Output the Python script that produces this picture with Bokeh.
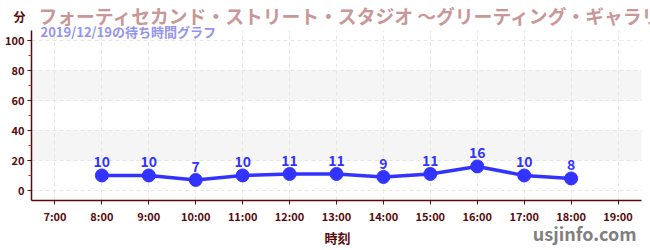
from bokeh.plotting import figure
from bokeh.models import (FixedTicker, Label, BoxAnnotation, ColumnDataSource, LabelSet,
                          LinearAxis, Grid)
from bokeh.core.properties import value
from bokeh.embed import file_html
from bokeh.resources import INLINE

hours = [8, 9, 10, 11, 12, 13, 14, 15, 16, 17, 18]
waits = [10, 10, 7, 10, 11, 11, 9, 11, 16, 10, 8]
tick_hours = list(range(7, 20))
tick_labels = [f"{h}:00" for h in tick_hours]
y_ticks = [0, 20, 40, 60, 80, 100]
y_minor = [10, 30, 50, 70, 90]
title_text = "フォーティセカンド・ストリート・スタジオ 〜グリーティング・ギャラリー〜"
subtitle_text = "2019/12/19の待ち時間グラフ"
FONT = "Noto Sans CJK JP"
DARK = "#5a0a0a"

W, H = 650, 250
FL, FR, FT, FB = 31, 641, 30, 200  # plot-area edges on the canvas
X0, X1 = 6.5, 19.5
Y0, Y1 = -6.7, 106.7
kx = (X1 - X0) / (FR - FL)
ky = (Y1 - Y0) / (FB - FT)

def dx(px):
    return X0 + (px - FL) * kx
def dy(py):
    return Y1 - (py - FT) * ky

p = figure(width=W, height=H, output_backend="svg", toolbar_location=None,
           x_range=(dx(0), dx(W)), y_range=(dy(H), dy(0)),
           x_axis_type=None, y_axis_type=None,
           min_border=0, min_border_left=0, min_border_right=0,
           min_border_top=0, min_border_bottom=0)
p.outline_line_color = None
p.background_fill_color = "white"
p.border_fill_color = "white"

for lo, hi in [(20, 40), (60, 80)]:
    p.add_layout(BoxAnnotation(bottom=lo, top=hi, left=X0, right=X1, fill_color="#f5f5f5",
                               fill_alpha=1, line_color=None, level="underlay"))

xaxis = LinearAxis(fixed_location=Y0, bounds=(X0, X1),
                   ticker=FixedTicker(ticks=tick_hours, minor_ticks=[]))
yaxis = LinearAxis(fixed_location=X0, bounds=(Y0, Y1),
                   ticker=FixedTicker(ticks=y_ticks, minor_ticks=y_minor))
xaxis.major_label_overrides = {h: l for h, l in zip(tick_hours, tick_labels)}
for ax in (xaxis, yaxis):
    ax.axis_line_color = DARK
    ax.axis_line_width = 1.5
    ax.major_tick_line_color = DARK
    ax.major_label_text_color = DARK
    ax.major_label_text_font = FONT
    ax.major_label_text_font_style = "bold"
    ax.major_label_text_font_size = "11px"
    ax.major_tick_out = 4
    ax.major_tick_in = 0
    ax.major_label_standoff = 3
xaxis.minor_tick_line_color = None
yaxis.minor_tick_line_color = "#dd2222"
yaxis.minor_tick_out = 3
yaxis.minor_tick_in = 0
p.add_layout(xaxis, "below")
p.add_layout(yaxis, "left")

xgrid = Grid(dimension=0, ticker=FixedTicker(ticks=tick_hours), bounds=(X0, X1))
ygrid = Grid(dimension=1, ticker=FixedTicker(ticks=y_ticks), bounds=(Y0, Y1))
has_cross = "cross_bounds" in Grid.properties()
if has_cross:
    xgrid.cross_bounds = (Y0, Y1)
    ygrid.cross_bounds = (X0, X1)
for g in (xgrid, ygrid):
    g.grid_line_color = "#e6e6e6"
    g.grid_line_dash = "4 3"
    p.add_layout(g)
if not has_cross:
    for kw in (dict(bottom=Y1), dict(top=Y0), dict(right=X0), dict(left=X1)):
        p.add_layout(BoxAnnotation(fill_color="white", fill_alpha=1, line_color=None,
                                   level="underlay", **kw))

src = ColumnDataSource(dict(x=hours, y=waits, t=[str(v) for v in waits]))
p.line("x", "y", source=src, line_color="#3333ff", line_width=3.5)
p.scatter("x", "y", source=src, size=13, fill_color="#3333ff", line_color="#3333ff")
p.add_layout(LabelSet(x="x", y="y", text="t", source=src, y_offset=8, text_align="center",
                      text_color="#3333ff", text_font=value(FONT), text_font_style="bold",
                      text_font_size="14px"))

def add_text(px, py, txt, size, color, bold=True, align="left"):
    p.add_layout(Label(x=dx(px), y=dy(py), text=txt,
                       text_font=FONT, text_font_style="bold" if bold else "normal",
                       text_font_size=size, text_color=color, text_baseline="middle",
                       text_align=align))

add_text(13, 16, "分", "12px", DARK)
add_text(38, 15, title_text, "18.8px", "#c99797")
add_text(40, 31, subtitle_text, "13px", "#9393f2")
add_text(337, 237, "時刻", "13px", DARK, align="center")
add_text(636, 232, "usjinfo.com", "18px", "#808080", align="right")

open("out.html", "w").write(file_html(p, INLINE))
